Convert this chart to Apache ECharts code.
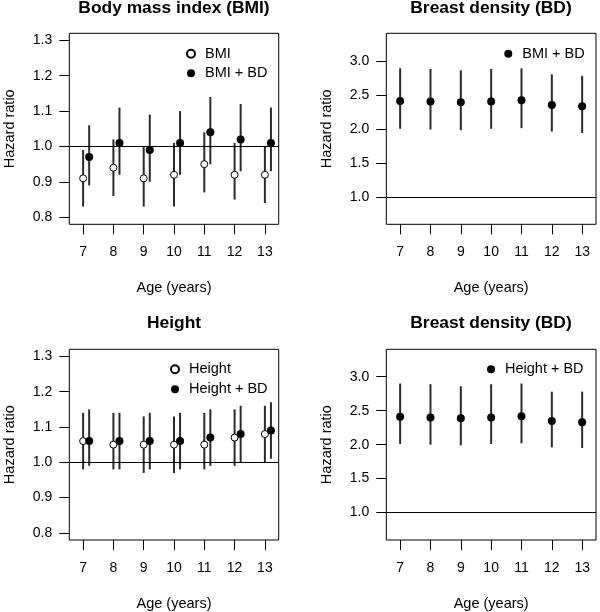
<!DOCTYPE html>
<html>
<head>
<meta charset="utf-8">
<script src="https://cdn.jsdelivr.net/npm/echarts@6/dist/echarts.min.js"></script>
<style>
html,body{margin:0;padding:0;background:#fff;}
#chart{width:600px;height:612px;}
</style>
</head>
<body>
<div id="chart"></div>
<script>
// ---- data ----
const ages = [7, 8, 9, 10, 11, 12, 13];

// Panel 1: Body mass index
const bmiHR   = [0.91, 0.94, 0.91, 0.92, 0.95, 0.92, 0.92];
const bmiLo   = [0.83, 0.86, 0.83, 0.83, 0.87, 0.85, 0.84];
const bmiHi   = [0.99, 1.02, 1.00, 1.01, 1.04, 1.01, 1.00];
const bmiBdHR = [0.97, 1.01, 0.99, 1.01, 1.04, 1.02, 1.01];
const bmiBdLo = [0.89, 0.92, 0.90, 0.92, 0.95, 0.93, 0.93];
const bmiBdHi = [1.06, 1.11, 1.09, 1.10, 1.14, 1.12, 1.11];

// Panel 2: Breast density (BMI + BD model)
const bd1HR = [2.41, 2.40, 2.39, 2.40, 2.42, 2.35, 2.33];
const bd1Lo = [2.00, 1.99, 1.98, 2.00, 2.01, 1.96, 1.94];
const bd1Hi = [2.89, 2.88, 2.86, 2.88, 2.89, 2.80, 2.78];

// Panel 3: Height
const htHR   = [1.06, 1.05, 1.05, 1.05, 1.05, 1.07, 1.08];
const htLo   = [0.98, 0.98, 0.97, 0.97, 0.98, 0.99, 1.00];
const htHi   = [1.14, 1.14, 1.13, 1.13, 1.14, 1.15, 1.16];
const htBdHR = [1.06, 1.06, 1.06, 1.06, 1.07, 1.08, 1.09];
const htBdLo = [0.99, 0.98, 0.98, 0.98, 0.99, 1.00, 1.01];
const htBdHi = [1.15, 1.14, 1.14, 1.14, 1.15, 1.16, 1.17];

// Panel 4: Breast density (Height + BD model)
const bd2HR = [2.41, 2.40, 2.39, 2.40, 2.42, 2.35, 2.33];
const bd2Lo = [2.01, 2.00, 1.99, 2.01, 2.02, 1.96, 1.95];
const bd2Hi = [2.90, 2.89, 2.86, 2.89, 2.90, 2.78, 2.78];

const smallTicks = [0.8, 0.9, 1.0, 1.1, 1.2, 1.3];
const bdTicks = [1.0, 1.5, 2.0, 2.5, 3.0];

const titles = ['Body mass index (BMI)', 'Breast density (BD)', 'Height', 'Breast density (BD)'];

// ---- chart ----
const FONT = 'Liberation Sans, Arial, Helvetica, sans-serif';
const chart = echarts.init(document.getElementById('chart'));

const grids = [
  {left: 69.3, top: 33.3, width: 209.4, height: 191},
  {left: 386.3, top: 33.3, width: 209.7, height: 191},
  {left: 69.3, top: 349.3, width: 209.4, height: 191},
  {left: 386.3, top: 349.3, width: 209.7, height: 191}
].map(g => Object.assign(g, {show: true, borderColor: '#000', borderWidth: 1, backgroundColor: 'transparent', containLabel: false}));

const XMIN = 6.544, XMAX = 13.456;
const xAxes = grids.map((g, i) => ({
  type: 'value', gridIndex: i, min: XMIN, max: XMAX,
  axisLine: {show: false}, splitLine: {show: false},
  axisTick: {show: true, customValues: ages, length: 10, lineStyle: {color: '#000', width: 1}},
  axisLabel: {customValues: ages, fontSize: 14, color: '#000', margin: 21, fontFamily: FONT},
  name: 'Age (years)', nameLocation: 'middle', nameGap: 56,
  nameTextStyle: {fontSize: 14.5, color: '#000', fontFamily: FONT}
}));

const yRanges = [[0.78, 1.32, smallTicks], [0.596, 3.404, bdTicks], [0.78, 1.32, smallTicks], [0.596, 3.404, bdTicks]];
const yAxes = yRanges.map((r, i) => ({
  type: 'value', gridIndex: i, min: r[0], max: r[1],
  axisLine: {show: false}, splitLine: {show: false},
  axisTick: {show: true, customValues: r[2], length: 10, lineStyle: {color: '#000', width: 1}},
  axisLabel: {customValues: r[2], fontSize: 14, color: '#000', margin: 17, fontFamily: FONT,
    formatter: v => v.toFixed(1)},
  name: 'Hazard ratio', nameLocation: 'middle', nameGap: 52,
  nameTextStyle: {fontSize: 14.5, color: '#000', fontFamily: FONT}
}));

function errBars(idx, lo, hi, off, withRef) {
  const s = {
    type: 'custom', xAxisIndex: idx, yAxisIndex: idx, z: 2, silent: true,
    data: ages.map((a, i) => [a + off, lo[i], hi[i]]),
    encode: {x: 0, y: [1, 2]},
    renderItem: (params, api) => {
      const p1 = api.coord([api.value(0), api.value(1)]);
      const p2 = api.coord([api.value(0), api.value(2)]);
      return {type: 'line', shape: {x1: p1[0], y1: p1[1], x2: p2[0], y2: p2[1]},
        style: {stroke: '#2a2a2a', lineWidth: 2}};
    }
  };
  if (withRef) {
    s.markLine = {silent: true, symbol: 'none', label: {show: false}, animation: false,
      lineStyle: {color: '#000', width: 1, type: 'solid'}, data: [{yAxis: 1}]};
  }
  return s;
}
function points(idx, name, hr, off, open) {
  return {
    type: 'scatter', name: name, xAxisIndex: idx, yAxisIndex: idx, z: 5,
    symbol: 'circle', symbolSize: open ? 7 : 8,
    itemStyle: open ? {color: '#fff', borderColor: '#000', borderWidth: 1, opacity: 1}
                    : {color: '#000', borderWidth: 0, opacity: 1},
    data: ages.map((a, i) => [a + off, hr[i]])
  };
}

const OFF = 0.2;
const series = [
  errBars(0, bmiLo, bmiHi, 0, true), errBars(0, bmiBdLo, bmiBdHi, OFF, false),
  points(0, 'BMI', bmiHR, 0, true), points(0, 'BMI + BD', bmiBdHR, OFF, false),
  errBars(1, bd1Lo, bd1Hi, 0, true), points(1, 'BMI + BD', bd1HR, 0, false),
  errBars(2, htLo, htHi, 0, true), errBars(2, htBdLo, htBdHi, OFF, false),
  points(2, 'Height', htHR, 0, true), points(2, 'Height + BD', htBdHR, OFF, false),
  errBars(3, bd2Lo, bd2Hi, 0, true), points(3, 'Height + BD', bd2HR, 0, false)
];

function legend(left, top, gap, names) {
  return {left: left, top: top, orient: 'vertical', itemWidth: 18, itemHeight: 8, itemGap: gap,
    padding: 0, selectedMode: false, data: names,
    textStyle: {fontSize: 14.5, color: '#000', fontFamily: FONT}};
}
const legends = [
  legend(186, 46.3, 4.4, ['BMI', 'BMI + BD']),
  legend(504.3, 46.3, 4.4, ['BMI + BD']),
  legend(170, 361.7, 5, ['Height', 'Height + BD']),
  legend(487, 361.7, 5, ['Height + BD'])
];

const titlePos = [[174, 8], [491, 8], [174, 323.3], [491, 323.3]];
const graphic = titles.map((t, i) => ({
  type: 'text', x: titlePos[i][0], y: titlePos[i][1],
  style: {text: t, fill: '#000', font: 'bold 17.4px ' + FONT, align: 'center', verticalAlign: 'middle'}
}));

chart.setOption({
  animation: false,
  backgroundColor: '#fff',
  grid: grids, xAxis: xAxes, yAxis: yAxes,
  legend: legends, series: series, graphic: graphic
});
</script>
</body>
</html>
